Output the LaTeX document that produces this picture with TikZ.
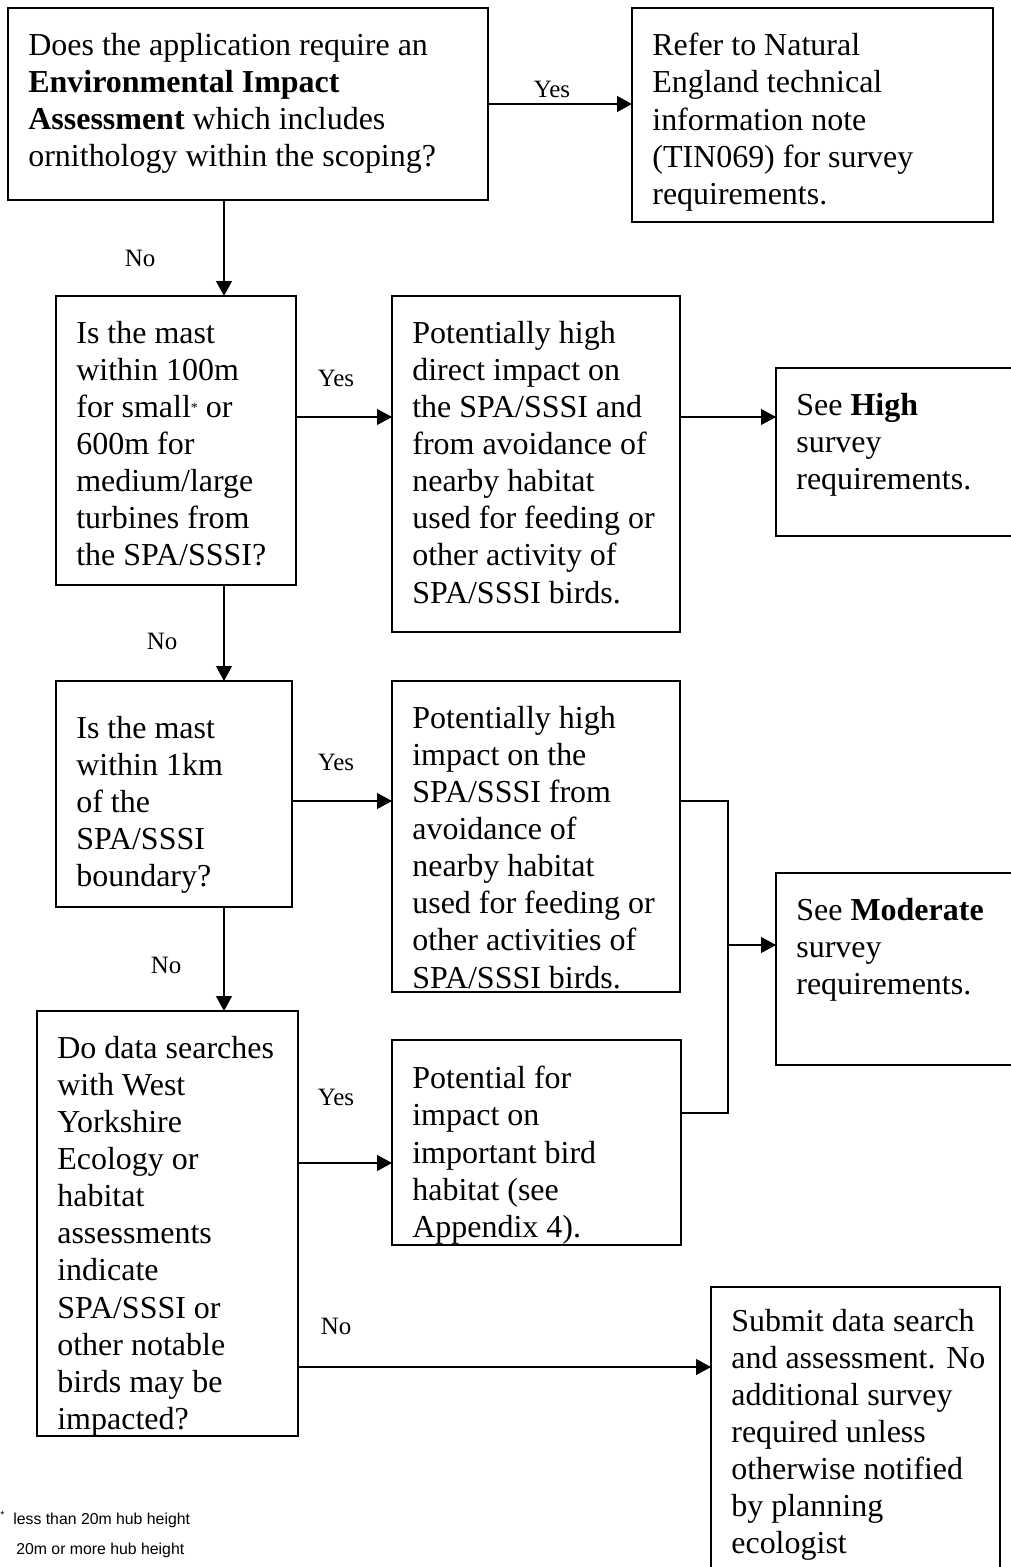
\documentclass[tikz,border=0pt]{standalone}
\usepackage{fontspec}
\setmainfont{Liberation Serif}
\newfontfamily\footfont{Liberation Sans}
\usetikzlibrary{arrows.meta,calc,fit}
\begin{document}
\begin{tikzpicture}[x=0.02cm,y=-0.02cm,
  box/.style={draw,line width=0.9pt,inner sep=0pt,outer sep=0pt},
  txt/.style={anchor=north west,inner sep=0pt,align=left,font=\fontsize{18.2}{21.1}\selectfont},
  lbl/.style={inner sep=0pt,font=\fontsize{14.2}{16}\selectfont},
  arr/.style={line width=0.9pt,-{Triangle[length=8.5pt,width=9pt]}},
  ln/.style={line width=0.9pt},
  foot/.style={inner sep=0pt,anchor=base west,font=\footfont\fontsize{9}{11}\selectfont}]
\useasboundingbox (0,0) rectangle (1010,1567);

% boxes
\node[box,fit={(8,8) (488,200)}] (A) {};
\node[box,fit={(632,8) (993,222)}] (B) {};
\node[box,fit={(56,296) (296,585)}] (C) {};
\node[box,fit={(392,296) (680,632)}] (D) {};
\node[box,fit={(776,368) (1016,536)}] (E) {};
\node[box,fit={(56,681) (292,907)}] (F) {};
\node[box,fit={(392,681) (680,992)}] (G) {};
\node[box,fit={(776,873) (1016,1065)}] (H) {};
\node[box,fit={(392,1040) (681,1245)}] (I) {};
\node[box,fit={(37,1011) (298,1436)}] (J) {};
\node[box,fit={(711,1287) (1000,1580)}] (K) {};

% texts
\node[txt] (At) at (28,33) {Does the application require an\\\textbf{Environmental Impact}\\\textbf{Assessment} which includes\\ornithology within the scoping?};
\node[txt] (Bt) at (652,33) {Refer to Natural\\England technical\\information note\\(TIN069) for survey\\requirements.};
\node[txt] (Ct) at (76,321) {Is the mast\\within 100m\\for small\raisebox{3pt}{\fontsize{8}{8}\selectfont*} or\\600m for\\medium/large\\turbines from\\the SPA/SSSI?};
\node[txt] (Dt) at (412,321) {Potentially high\\direct impact on\\the SPA/SSSI and\\from avoidance of\\nearby habitat\\used for feeding or\\other activity of\\SPA/SSSI birds.};
\node[txt] (Et) at (796,393) {See \textbf{High}\\survey\\requirements.};
\node[txt] (Ft) at (76,716) {Is the mast\\within 1km\\of the\\SPA/SSSI\\boundary?};
\node[txt] (Gt) at (412,706) {Potentially high\\impact on the\\SPA/SSSI from\\avoidance of\\nearby habitat\\used for feeding or\\other activities of\\SPA/SSSI birds.};
\node[txt] (Ht) at (796,898) {See \textbf{Moderate}\\survey\\requirements.};
\node[txt] (It) at (412,1066) {Potential for\\impact on\\important bird\\habitat (see\\Appendix 4).};
\node[txt] (Jt) at (57,1036) {Do data searches\\with West\\Yorkshire\\Ecology or\\habitat\\assessments\\indicate\\SPA/SSSI or\\other notable\\birds may be\\impacted?};
\node[txt] (Kt) at (731,1309) {Submit data search\\and assessment. No\\additional survey\\required unless\\otherwise notified\\by planning\\ecologist};

% connectors
\draw[arr] (A.east) -- (A.east -| B.west);
\path (A.south west) ++(216,0) coordinate (ac);
\draw[arr] (ac) -- (ac |- C.north);
\path (C.north east) ++(0,121) coordinate (cd);
\draw[arr] (cd) -- (cd -| D.west);
\draw[arr] (cd -| D.east) -- (cd -| E.west);
\path (C.south west) ++(168,0) coordinate (cf);
\draw[arr] (cf) -- (cf |- F.north);
\path (F.north east) ++(0,120) coordinate (fg);
\draw[arr] (fg) -- (fg -| G.west);
\path (G.north east) ++(48,120) coordinate (g1);
\path (I.north east) ++(0,73) coordinate (i0);
\draw[ln] (fg -| G.east) -- (g1) -- (g1 |- i0) -- (i0);
\path (g1) ++(0,144) coordinate (gh);
\draw[arr] (gh) -- (gh -| H.west);
\path (F.south west) ++(168,0) coordinate (fj);
\draw[arr] (fj) -- (fj |- J.north);
\path (J.north east) ++(0,152) coordinate (ji);
\draw[arr] (ji) -- (ji -| I.west);
\path (J.north east) ++(0,356) coordinate (jk);
\draw[arr] (jk) -- (jk -| K.west);

% labels
\node[lbl] (l1) at (552,89) {Yes};
\node[lbl] (l2) at (140,258) {No};
\node[lbl] (l3) at (336,378) {Yes};
\node[lbl] (l4) at (162,641) {No};
\node[lbl] (l5) at (336,762) {Yes};
\node[lbl] (l6) at (166,965) {No};
\node[lbl] (l7) at (336,1097) {Yes};
\node[lbl] (l8) at (336,1326) {No};

% footnotes
\node[foot,font=\footfont\fontsize{6}{7}\selectfont] (f0) at (0,1518) {*};
\node[foot] (f1) at (13,1524) {less than 20m hub height};
\node[foot] (f2) at (16,1554) {20m or more hub height};
\end{tikzpicture}
\end{document}
